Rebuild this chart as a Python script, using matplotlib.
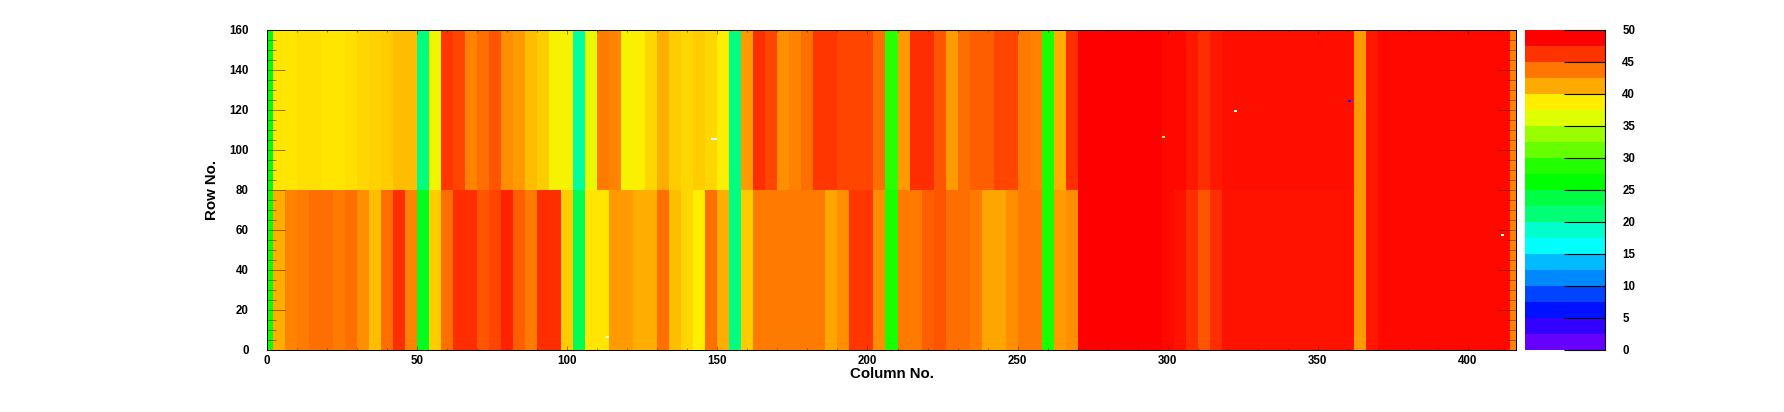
import numpy as np
import matplotlib
matplotlib.use('Agg')
import matplotlib.pyplot as plt
from matplotlib.colors import ListedColormap, BoundaryNorm, LinearSegmentedColormap

plt.rcParams['font.family'] = ['Liberation Sans', 'DejaVu Sans']
plt.rcParams['font.weight'] = 'bold'

# column blocks, mean level per block
col_edges = [0] + list(range(2, 415, 4)) + [416]
row_edges = [0, 80, 160]

upper_rows = [26,
    39, 39, 39.2, 39.2, 39, 39, 39.2, 39.5, 39.8, 40, 40.5, 40.5,
    21,
    37.5, 46, 45.5, 43, 44, 45, 42.5, 42, 40.5, 40, 38, 38,
    20,
    37, 43.5, 43, 38, 38.5, 39.5, 41, 40, 39.5, 40, 39.5, 38.5,
    21,
    42, 46.5, 45.5, 42.5, 43, 44, 46, 46, 45.5, 45.5, 45.5, 44,
    29,
    42, 46.5, 46.5, 45, 42, 44, 44.5, 44.5, 45.5, 45.5, 43.5, 43,
    28,
    41, 46.5,
    48.9, 48.9, 48.9, 48.9, 48.9, 48.9, 48.9, 48.3, 48.3,
    47.5, 46.5, 47.5,
    48, 48, 48, 48, 48, 48, 48, 48, 48, 48, 48,
    42, 47.5, 48.3,
    48.3, 48.3, 48.3, 48.3, 48.3, 48.3, 48.3, 48.3, 48.3, 48.3,
    43]

lower_rows = [27,
    41, 43, 43.5, 44, 44, 43.5, 44, 42.5, 40.5, 44, 46.5, 43,
    25,
    40, 44, 46.5, 46.5, 45, 45.5, 47, 44.5, 43.5, 46.5, 46.5, 40,
    23,
    39, 39, 42, 42, 41, 41, 44, 40.5, 39.5, 38.5, 44, 41,
    21,
    40, 43.5, 43.5, 43.5, 43.5, 43.5, 43.5, 41.5, 42.5, 46, 46, 42.5,
    28,
    43.5, 43.5, 44.5, 45, 44, 44, 43.5, 41.5, 41.5, 42.5, 43.5, 43.5,
    28,
    42, 42.5,
    48.9, 48.9, 48.9, 48.9, 48.9, 48.9, 48.9, 48.3, 47.8,
    46.5, 45, 46.5,
    47.8, 47.8, 47.8, 47.8, 47.8, 47.8, 47.8, 47.8, 47.8, 47.8, 47.8,
    42, 47.5, 48.3,
    48.3, 48.3, 48.3, 48.3, 48.3, 48.3, 48.3, 48.3, 48.3, 48.3,
    43]

# single odd cells that stand out
odd_cols = [322, 411, 360, 148, 149, 113, 298]
odd_rows = [119, 57, 124, 105, 105, 6, 106]
odd_vals = [np.nan, np.nan, 6, np.nan, np.nan, np.nan, 38]

palette = ['#6600ff', '#3300ff', '#0011ff', '#0044ff', '#0088ff', '#00bbff',
           '#00ffff', '#00ffcc', '#00ff77', '#00ff44', '#00ff00', '#22ff00',
           '#66ff00', '#99ff00', '#ddff00', '#ffee00', '#ffaa00', '#ff7700',
           '#ff3300', '#ff0000']
levels = np.arange(0, 50.1, 2.5)

W, H = 1784, 412
fig = plt.figure(figsize=(W / 100, H / 100), dpi=100)
ax = fig.add_axes([267 / W, 62 / H, 1249 / W, 320 / H])
cax = fig.add_axes([1525 / W, 62 / H, 80 / W, 320 / H])

# expand the blocks to the real 416 x 160 cells
widths = np.diff(col_edges)
grid = np.vstack([np.repeat(lower_rows, widths)] * 80 + [np.repeat(upper_rows, widths)] * 80).astype(float)
for c, r, v in zip(odd_cols, odd_rows, odd_vals):
    grid[r, c] = v

# blocks hold means, so blend the palette to get the mixed colour of each stripe
mid = (levels[:-1] + levels[1:]) / 2
smooth = LinearSegmentedColormap.from_list(
    'smooth', [(0, palette[0])] + [((m - mid[0]) / (mid[-1] - mid[0]), p) for m, p in zip(mid, palette)][1:])
ax.pcolormesh(np.arange(417), np.arange(161), grid, cmap=smooth, vmin=mid[0], vmax=mid[-1], rasterized=True)
ax.set_xlim(0, 416)
ax.set_ylim(0, 160)

ax.set_xticks(np.arange(0, 401, 50))
ax.set_xticks(np.arange(0, 417, 10), minor=True)
ax.set_yticks(np.arange(0, 161, 20))
ax.set_yticks(np.arange(0, 161, 5), minor=True)
px = 0.72
tick_col = '#552200'
ax.tick_params(axis='x', which='major', direction='in', top=True, length=4 * px, width=0.4, color=tick_col, labelsize=8.3, pad=3.4)
ax.tick_params(axis='x', which='minor', direction='in', top=True, length=2 * px, width=0.4, color=tick_col)
ax.tick_params(axis='y', which='major', direction='in', right=True, length=18 * px, width=0.4, color=tick_col, labelsize=8.3, pad=13)
ax.tick_params(axis='y', which='minor', direction='in', right=True, length=9 * px, width=0.4, color=tick_col)
for s in ax.spines.values():
    s.set_linewidth(0.72)

cmap = ListedColormap(palette)
cax.pcolormesh([0, 1], levels, np.arange(20).reshape(-1, 1) + 0.5, cmap=cmap,
               norm=BoundaryNorm(np.arange(21), 20))
cax.set_xlim(0, 1)
cax.set_ylim(0, 50)
cax.set_xticks([])
cax.yaxis.tick_right()
cax.set_yticks(np.arange(0, 51, 5))
cax.tick_params(axis='y', direction='in', length=41 * px, width=0.8, labelsize=8.3, pad=12.5)
cax.spines['left'].set_visible(False)
cax.spines['top'].set_visible(False)
cax.spines['bottom'].set_visible(False)
cax.spines['right'].set_linewidth(0.8)

fig.text(892 / W, 1 - 374 / H, 'Column No.', ha='center', va='center', fontsize=10.8, fontweight='bold')
fig.text(212 / W, 1 - 190 / H, 'Row No.', ha='center', va='center', rotation=90, fontsize=10.8, fontweight='bold')

fig.savefig('out.png', dpi=100)
